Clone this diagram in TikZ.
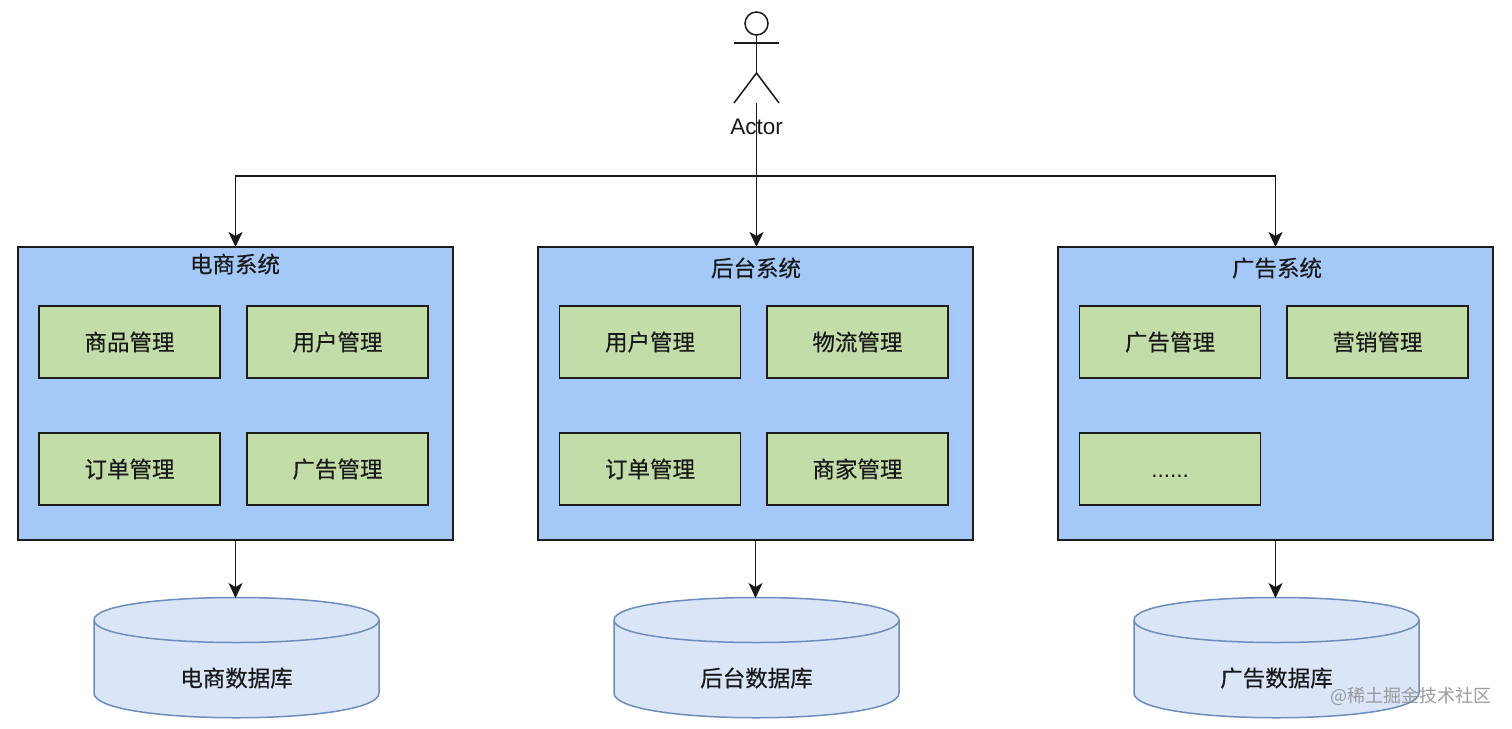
\documentclass[tikz,border=0pt]{standalone}
\usepackage{fontspec}
\setmainfont{Liberation Sans}
\newfontfamily\cjk[RawFeature={embolden=0.35}]{Noto Sans CJK SC}
\newfontfamily\cjklight{Noto Sans CJK SC}
\usetikzlibrary{arrows.meta,calc}
\definecolor{sysblue}{HTML}{A4C8F7}
\definecolor{modgreen}{HTML}{C3DDA9}
\definecolor{dbfill}{HTML}{DAE6F8}
\definecolor{dbline}{HTML}{6C8DBD}
\definecolor{inkline}{HTML}{1C1C1C}
\tikzset{
  sysbox/.style={draw=inkline,line width=1.6pt,fill=sysblue,minimum width=435pt,minimum height=293pt,inner sep=0pt,outer sep=0pt},
  modbox/.style={draw=inkline,line width=1.6pt,fill=modgreen,minimum width=181pt,minimum height=72pt,inner sep=0pt,outer sep=0pt,font=\cjk\fontsize{22.5}{24}\selectfont,text=black!90},
  systitle/.style={inner sep=0pt,font=\cjk\fontsize{22.5}{24}\selectfont,text=black!90},
  dbtext/.style={inner sep=0pt,font=\cjk\fontsize{22.5}{24}\selectfont,text=black!90},
  dbanchor/.style={minimum width=285pt,minimum height=120pt,inner sep=0pt,outer sep=0pt},
  dbshape/.style={draw=dbline,line width=1.5pt,fill=dbfill},
  link/.style={draw=black!90,line width=1.8pt,-{Stealth[length=15pt,width=14pt,inset=4pt]}},
  figure/.style={draw=black!90,line width=1.5pt},
}
% cylinder: name, centre x, label
\newcommand{\dbcyl}[3]{%
  \node[dbanchor] (#1) at (#2,658) {};
  \path[dbshape] ($(#1.north west)+(0,22)$)
    .. controls +(0,-30) and ($(#1.north east)+(0,-8)$) .. ($(#1.north east)+(0,22)$)
    -- ($(#1.south east)+(0,-25)$)
    .. controls +(0,33) and ($(#1.south west)+(0,8)$) .. ($(#1.south west)+(0,-25)$)
    -- cycle;
  \draw[dbshape,fill=none] ($(#1.north west)+(0,22)$)
    .. controls +(0,30) and ($(#1.north east)+(0,52)$) .. ($(#1.north east)+(0,22)$);
  \node[dbtext] (#1t) at (#2,678) {#3};
}
\begin{document}
\begin{tikzpicture}[x=1pt,y=-1pt]
\useasboundingbox (0,0) rectangle (1512,728);
\fill[white] (0,0) rectangle (1512,728);

% system boxes
\node[sysbox] (s1) at (235.5,393.5) {};
\node[sysbox] (s2) at (755.5,393.5) {};
\node[sysbox] (s3) at (1275.5,393.5) {};
\node[systitle] (s1t) at (235,264) {电商系统};
\node[systitle] (s2t) at (756,268) {后台系统};
\node[systitle] (s3t) at (1277,268) {广告系统};

% modules
\node[modbox] (a1) at (129.5,342) {商品管理};
\node[modbox] (a2) at (337.5,342) {用户管理};
\node[modbox] (a3) at (129.5,469) {订单管理};
\node[modbox] (a4) at (337.5,469) {广告管理};
\node[modbox] (b1) at (650,342) {用户管理};
\node[modbox] (b2) at (857.5,342) {物流管理};
\node[modbox] (b3) at (650,469) {订单管理};
\node[modbox] (b4) at (857.5,469) {商家管理};
\node[modbox] (c1) at (1170,342) {广告管理};
\node[modbox] (c2) at (1377.5,342) {营销管理};
\node[modbox] (c3) at (1170,469) {\normalfont\smash{\raisebox{-8.5pt}{......}}};

% databases
\dbcyl{d1}{236.5}{电商数据库}
\dbcyl{d2}{756.5}{后台数据库}
\dbcyl{d3}{1276.5}{广告数据库}

% actor
\node[figure,circle,minimum size=23pt,inner sep=0pt,outer sep=0pt] (head) at (756.5,23.5) {};
\coordinate (hip) at (756.5,73);
\coordinate (armL) at (734,43);
\coordinate (armR) at (779,43);
\coordinate (legL) at (734,103);
\coordinate (legR) at (779,103);
\draw[figure] (head.south) -- (hip);
\draw[figure] (armL) -- (armR);
\draw[figure] (legL) -- (hip) -- (legR);
\node[inner sep=0pt,font=\fontsize{22.5}{24}\selectfont,text=black!90] (actor) at (756.5,127) {Actor};

% connectors
\coordinate (top) at (756.5,103);
\coordinate (junction) at (756.5,176);
\draw[draw=black!90,line width=1.8pt] (top) -- (junction);
\draw[link] (junction) -| (s1.north);
\draw[link] (junction) -- (junction |- s2.north);
\draw[link] (junction) -| (s3.north);
\draw[link] (s1.south) -- (d1.north -| s1.south);
\draw[link] (s2.south) -- (d2.north -| s2.south);
\draw[link] (s3.south) -- (d3.north -| s3.south);

% watermark
\node[inner sep=0pt,font=\cjklight\fontsize{18}{20}\selectfont,text=black!45,opacity=.85] (mark) at (1410.5,696) {@稀土掘金技术社区};
\end{tikzpicture}
\end{document}
